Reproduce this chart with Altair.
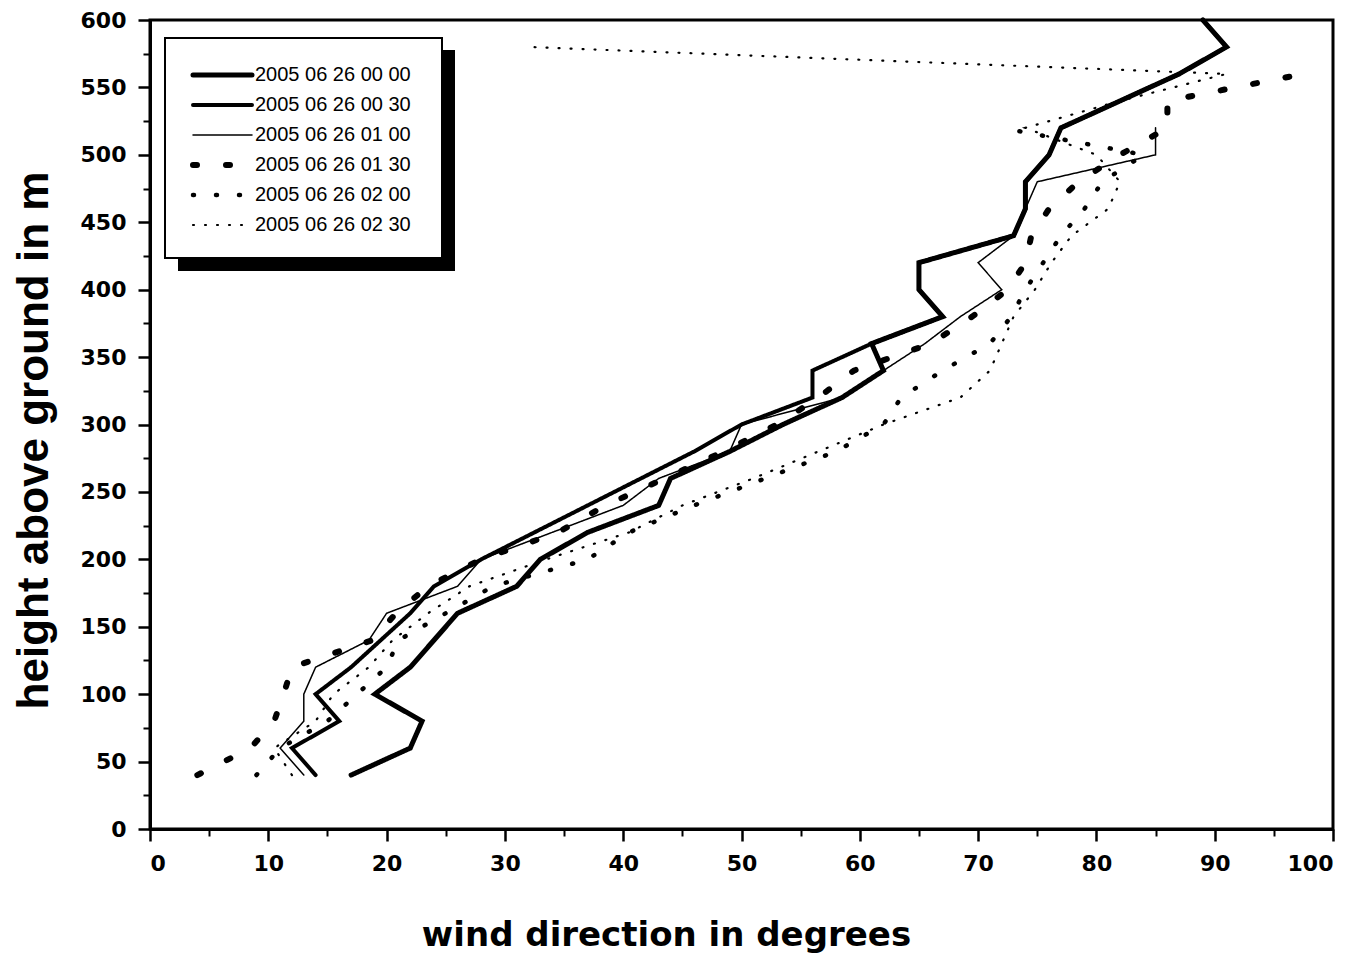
import altair as alt
import pandas as pd

# heights (m) at 20 m steps
H = [40, 60, 80, 100, 120, 140, 160, 180, 200, 220, 240, 260, 280, 300, 320,
     340, 360, 380, 400, 420, 440, 460, 480, 500, 520, 540, 560, 580, 600]

series_names = ["2005 06 26 00 00", "2005 06 26 00 30", "2005 06 26 01 00",
                "2005 06 26 01 30", "2005 06 26 02 00", "2005 06 26 02 30"]

# wind direction (degrees) per series, listed from 40 m upward
s0000 = [17, 22, 23, 19, 22, 24, 26, 31, 33, 37, 43, 44, 49, 53.5, 58.5,
         62, 61, 67, 65, 65, 73, 74, 74, 76, 77, 82, 87, 91, 89]
s0030 = [14, 12, 16, 14, 17, 19.5, 22, 24, 28, 32.5, 37, 41.5, 46, 50, 56,
         56, 61, 67, 65, 65, 73, 74, 74, 76, 77, 82, 87, 91, 89]
s0100 = [13, 11, 13, 13, 14, 18.5, 20, 26, 28, 34, 40, 43, 49, 50, 58.5,
         62, 65.5, 68.5, 72, 70, 73, 74, 75, 85, 85]
s0130 = [4, 8.5, 10.5, 11.3, 12, 18.8, 20.8, 23.5, 28, 34.5, 38.5, 43.5, 48.5, 53, 56.5,
         59.5, 66, 69.5, 72.5, 74, 74.5, 76, 78.5, 82, 86, 86, 97.5]
s0200 = [9, 11, 15, 17.5, 20, 21, 25, 29, 37, 40.5, 46, 52, 58, 62, 63.5,
         67, 71, 72.8, 74, 75.5, 77, 79, 80.5, 84, 72]
s0230 = [12, 10.5, 14, 15.5, 18.5, 20.5, 23.5, 27, 33.5, 40.5, 45, 51, 56.5, 62, 68.5,
         71, 72, 73, 74.8, 76.2, 77.9, 81, 82, 80, 74, 82, 91, 32]

all_series = [s0000, s0030, s0100, s0130, s0200, s0230]
rows = []
for name, vals in zip(series_names, all_series):
    for h, d in zip(H, vals):
        rows.append({"series": name, "h": h, "dir": d})
df = pd.DataFrame(rows)

legend_df = pd.DataFrame({"series": series_names, "row": list(range(len(series_names)))})

# line styles (width, dash) per series
styles = [(5, [1, 0]), (4, [1, 0]), (1.5, [1, 0]), (6, [4, 29]), (4.5, [1, 22]), (2.2, [1, 11])]

W, HT = 1183, 809
xscale = alt.Scale(domain=[0, 100], nice=False, zero=False)
yscale = alt.Scale(domain=[0, 600], nice=False, zero=False)

x_axis = alt.Axis(
    values=list(range(0, 101, 10)), orient="bottom",
    title="wind direction in degrees",
    titleFont="DejaVu Sans", titleFontWeight="bold", titleFontSize=34,
    titleColor="black", titleX=516, titleY=116, titleAlign="center",
    titleBaseline="alphabetic",
    labelFont="DejaVu Sans", labelFontWeight="bold", labelFontSize=22,
    labelColor="black", labelPadding=12,
    tickSize=12, tickWidth=2.5, tickColor="black",
    domainWidth=3, domainColor="black", grid=False)
y_axis = alt.Axis(
    values=list(range(0, 601, 50)), orient="left",
    title="height above ground in m",
    titleFont="Liberation Sans", titleFontWeight="bold", titleFontSize=44,
    titleColor="black", titleX=-103, titleY=420, titleAngle=270,
    titleAlign="center", titleBaseline="alphabetic",
    labelFont="DejaVu Sans", labelFontWeight="bold", labelFontSize=22,
    labelColor="black", labelPadding=12,
    tickSize=12, tickWidth=2.5, tickColor="black",
    domainWidth=3, domainColor="black", grid=False)

layers = []

# legend frame with drop shadow
one = alt.Data(values=[{"k": 1}])
layers.append(alt.Chart(one).mark_rect(color="black").encode(
    x=alt.value(28), x2=alt.value(305), y=alt.value(30), y2=alt.value(251)))
layers.append(alt.Chart(one).mark_rect(fill="white", stroke="black", strokeWidth=2).encode(
    x=alt.value(15), x2=alt.value(292), y=alt.value(18), y2=alt.value(238)))

row_scale = alt.Scale(domain=[0, 5], range=[55, 205])

for i, (name, (w, dash)) in enumerate(zip(series_names, styles)):
    first = i == 0
    layers.append(
        alt.Chart(df).transform_filter(alt.datum.series == name)
        .mark_line(color="black", strokeWidth=w, strokeDash=dash, strokeCap="round")
        .encode(
            x=alt.X("dir:Q", scale=xscale, axis=x_axis if first else None),
            y=alt.Y("h:Q", scale=yscale, axis=y_axis if first else None),
            order=alt.Order("h:Q"),
        )
    )
    layers.append(
        alt.Chart(legend_df).transform_filter(alt.datum.series == name)
        .mark_rule(color="black", strokeWidth=w, strokeDash=dash, strokeCap="round")
        .encode(
            x=alt.value(43), x2=alt.value(102),
            y=alt.Y("row:Q", scale=row_scale, axis=None),
        )
    )

# minor ticks
layers.append(alt.Chart(df).mark_point(opacity=0).encode(
    x=alt.X("dir:Q", scale=xscale, axis=alt.Axis(
        values=list(range(5, 100, 10)), orient="bottom", labels=False, title="",
        domain=False, tickSize=7, tickWidth=2, tickColor="black", grid=False)),
    y=alt.Y("h:Q", scale=yscale, axis=alt.Axis(
        values=list(range(25, 600, 50)), orient="left", labels=False, title="",
        domain=False, tickSize=7, tickWidth=2, tickColor="black", grid=False)),
))

layers.append(alt.Chart(legend_df).mark_text(
    align="left", baseline="middle", font="Liberation Sans", fontSize=20, color="black"
).encode(
    x=alt.value(105),
    y=alt.Y("row:Q", scale=row_scale, axis=None),
    text="series:N",
))

chart = alt.layer(*layers).resolve_scale(
    y="independent"
).resolve_axis(
    x="independent", y="independent"
).properties(
    width=W, height=HT,
    autosize=alt.AutoSizeParams(type="none"),
    padding={"left": 150, "top": 20, "right": 38, "bottom": 128},
    background="white",
).configure_view(stroke="black", strokeWidth=3)

chart.save("out.html", embed_options={"renderer": "svg", "actions": False})
